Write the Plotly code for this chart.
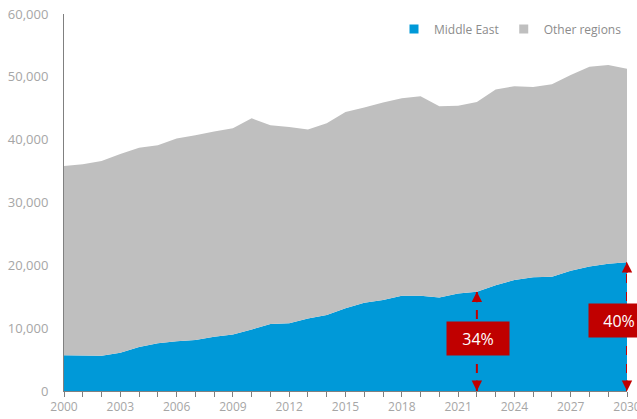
import plotly.graph_objects as go

years = list(range(2000, 2031))
middle_east = [5700, 5650, 5600, 6100, 7000, 7600, 7900, 8100, 8650, 9000,
               9800, 10650, 10800, 11550, 12100, 13150, 14050, 14500, 15150, 15150,
               14900, 15500, 15800, 16850, 17650, 18100, 18200, 19150, 19800, 20250,
               20500]
other_regions = [30100, 30450, 31000, 31600, 31700, 31500, 32300, 32600, 32650, 32800,
                 33600, 31650, 31200, 30050, 30500, 31250, 31050, 31400, 31450, 31750,
                 30400, 29900, 30200, 31150, 30850, 30300, 30600, 31150, 31800, 31650,
                 30800]
share_years = [2022, 2030]
share_labels = ["34%", "40%"]

ME_COLOR = "#0099D8"
OTHER_COLOR = "#BFBFBF"
RED = "#C00000"
FONT = "Open Sans"

fig = go.Figure()
fig.add_trace(go.Scatter(x=years, y=middle_east, stackgroup="one", mode="none",
                         fillcolor=ME_COLOR, name="Middle East", showlegend=False))
fig.add_trace(go.Scatter(x=years, y=other_regions, stackgroup="one", mode="none",
                         fillcolor=OTHER_COLOR, name="Other regions", showlegend=False))
# legend proxies
fig.add_trace(go.Scatter(x=[None], y=[None], mode="markers", name="Middle East",
                         marker=dict(symbol="square", size=9, color=ME_COLOR)))
fig.add_trace(go.Scatter(x=[None], y=[None], mode="markers", name="Other regions",
                         marker=dict(symbol="square", size=9, color=OTHER_COLOR)))

box_pos = {2022: (2022.07, 8300, 60), 2030: (2029.6, 11300, 58)}
for yr, lab in zip(share_years, share_labels):
    v = middle_east[years.index(yr)]
    fig.add_shape(type="line", x0=yr, x1=yr, y0=0, y1=v, xref="x", yref="y",
                  line=dict(color=RED, width=2, dash="dash"))
    fig.add_annotation(x=yr, y=v, ax=0, ay=12, showarrow=True, arrowhead=2,
                       arrowsize=1.3, arrowwidth=1.6, arrowcolor=RED, text="",
                       standoff=0)
    fig.add_annotation(x=yr, y=0, ax=0, ay=-12, showarrow=True, arrowhead=2,
                       arrowsize=1.3, arrowwidth=1.6, arrowcolor=RED, text="",
                       standoff=0)
    bx, by, bw = box_pos[yr]
    fig.add_annotation(x=bx, y=by, text=lab, showarrow=False, bgcolor=RED,
                       width=bw, height=31, align="center", valign="middle",
                       font=dict(family=FONT, size=16, color="white"))

fig.update_layout(
    width=637, height=419,
    margin=dict(l=64, r=10, t=14, b=28, autoexpand=False),
    paper_bgcolor="white", plot_bgcolor="white",
    font=dict(family=FONT, color="#A6A6A6", size=12),
    legend=dict(orientation="h", x=1.0, xanchor="right", y=0.96, yanchor="middle",
                font=dict(family=FONT, size=12, color="#8C8C8C"),
                traceorder="normal", itemwidth=30, bgcolor="rgba(0,0,0,0)"),
    showlegend=True,
)
fig.update_xaxes(range=[2000, 2030], tick0=2000, dtick=3, ticks="outside", ticklen=5,
                 tickcolor="#808080", showline=True, linecolor="#808080", linewidth=1,
                 showgrid=False, zeroline=False, ticklabeloverflow="allow",
                 minor=dict(dtick=1, ticks="outside", ticklen=5, tickcolor="#808080", showgrid=False),
                 tickfont=dict(size=12, color="#A6A6A6"))
fig.update_yaxes(range=[0, 60000], dtick=10000, tickformat=",", showline=True,
                 linecolor="#808080", linewidth=1, showgrid=False, zeroline=False,
                 ticks="", ticklabelstandoff=12, tickfont=dict(size=13, color="#A6A6A6"))

fig.write_html("out.html")
